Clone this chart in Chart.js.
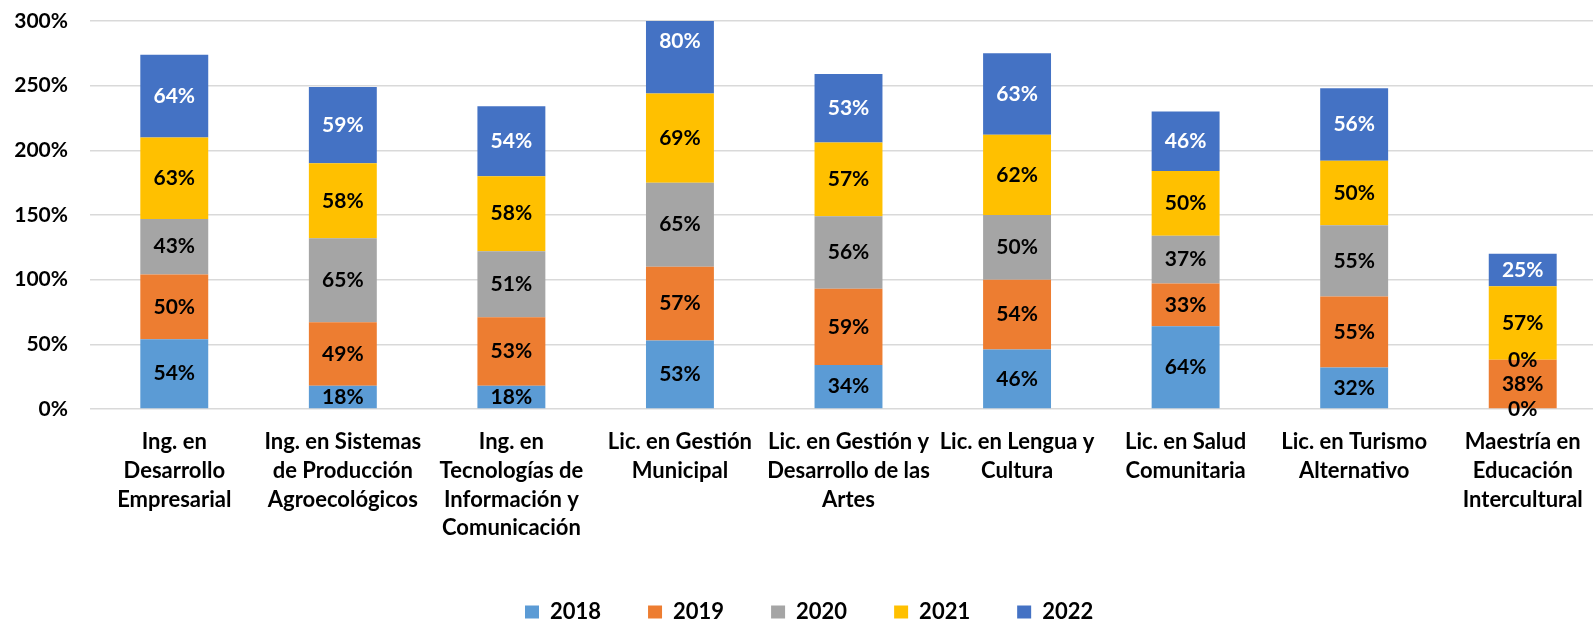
<!DOCTYPE html>
<html>
<head>
<meta charset="utf-8">
<title>Eficiencia por programa educativo</title>
<script src="https://cdn.jsdelivr.net/npm/chart.js"></script>
<style>
    body { margin: 0; overflow: hidden; background: #fff; }
    .chart-box { width: 1610px; height: 633px; }
</style>
</head>
<body>
<div class="chart-box">
    <canvas id="chart"></canvas>
</div>

<script>
    const programas = [
        ['Ing. en', 'Desarrollo', 'Empresarial'],
        ['Ing. en Sistemas', 'de Producción', 'Agroecológicos'],
        ['Ing. en', 'Tecnologías de', 'Información y', 'Comunicación'],
        ['Lic. en Gestión', 'Municipal'],
        ['Lic. en Gestión y', 'Desarrollo de las', 'Artes'],
        ['Lic. en Lengua y', 'Cultura'],
        ['Lic. en Salud', 'Comunitaria'],
        ['Lic. en Turismo', 'Alternativo'],
        ['Maestría en', 'Educación', 'Intercultural']
    ];
    const years = ['2018', '2019', '2020', '2021', '2022'];

    const v2018 = [54, 18, 18, 53, 34, 46, 64, 32, 0];
    const v2019 = [50, 49, 53, 57, 59, 54, 33, 55, 38];
    const v2020 = [43, 65, 51, 65, 56, 50, 37, 55, 0];
    const v2021 = [63, 58, 58, 69, 57, 62, 50, 50, 57];
    const v2022 = [64, 59, 54, 80, 53, 63, 46, 56, 25];

    const yTicks = [0, 50, 100, 150, 200, 250, 300];

    const colors = ['#5B9BD5', '#ED7D31', '#A5A5A5', '#FFC000', '#4472C4'];
    const labelColors = ['#000', '#000', '#000', '#000', '#fff'];

    // value labels in the middle of each segment
    const barLabels = {
        id: 'barLabels',
        afterDatasetsDraw(chart) {
            const ctx = chart.ctx;
            ctx.save();
            ctx.font = 'bold 21px Lato';
            ctx.textAlign = 'center';
            ctx.textBaseline = 'middle';
            chart.data.datasets.forEach((ds, i) => {
                chart.getDatasetMeta(i).data.forEach((bar, j) => {
                    ctx.fillStyle = labelColors[i];
                    ctx.fillText(ds.data[j] + '%', bar.x, (bar.y + bar.base) / 2);
                });
            });
            ctx.restore();
        }
    };

    // legend sits left of centre in the original
    const legendLeft = {
        id: 'legendLeft',
        beforeDraw(chart) {
            chart.legend.left = 478;
        }
    };

    function draw() {
        Chart.defaults.font.family = 'Lato';
        Chart.defaults.font.weight = 'bold';
        Chart.defaults.font.size = 21;
        Chart.defaults.color = '#000';

        const series = [v2018, v2019, v2020, v2021, v2022];

        new Chart(document.getElementById('chart'), {
            type: 'bar',
            data: {
                labels: programas,
                datasets: years.map((y, i) => ({
                    label: y,
                    data: series[i],
                    backgroundColor: colors[i],
                    barPercentage: 0.403,
                    categoryPercentage: 1
                }))
            },
            options: {
                responsive: true,
                maintainAspectRatio: false,
                animation: false,
                layout: { padding: { top: 21, left: 0, right: 3, bottom: 0 } },
                plugins: {
                    tooltip: { enabled: false },
                    legend: {
                        position: 'bottom',
                        align: 'start',
                        labels: { boxWidth: 14, boxHeight: 13, padding: 47, font: { size: 22 } }
                    }
                },
                scales: {
                    x: {
                        stacked: true,
                        grid: { display: false },
                        border: { display: false },
                        ticks: { maxRotation: 0, autoSkip: false, padding: 11, font: { size: 22, lineHeight: 1.3 } },
                        afterFit(scale) { scale.height = 145; }
                    },
                    y: {
                        stacked: true,
                        min: yTicks[0],
                        max: yTicks[yTicks.length - 1],
                        afterBuildTicks(scale) { scale.ticks = yTicks.map(v => ({ value: v })); },
                        grid: { color: '#d9d9d9', lineWidth: 1.5, drawTicks: true, tickLength: 22, tickColor: 'rgba(0,0,0,0)' },
                        border: { display: false },
                        ticks: { padding: 0, callback: v => v + '%' },
                        afterFit(scale) { scale.width = 90; }
                    }
                }
            },
            plugins: [barLabels, legendLeft]
        });
    }

    document.fonts.load('bold 22px Lato').then(draw, draw);
</script>
</body>
</html>
